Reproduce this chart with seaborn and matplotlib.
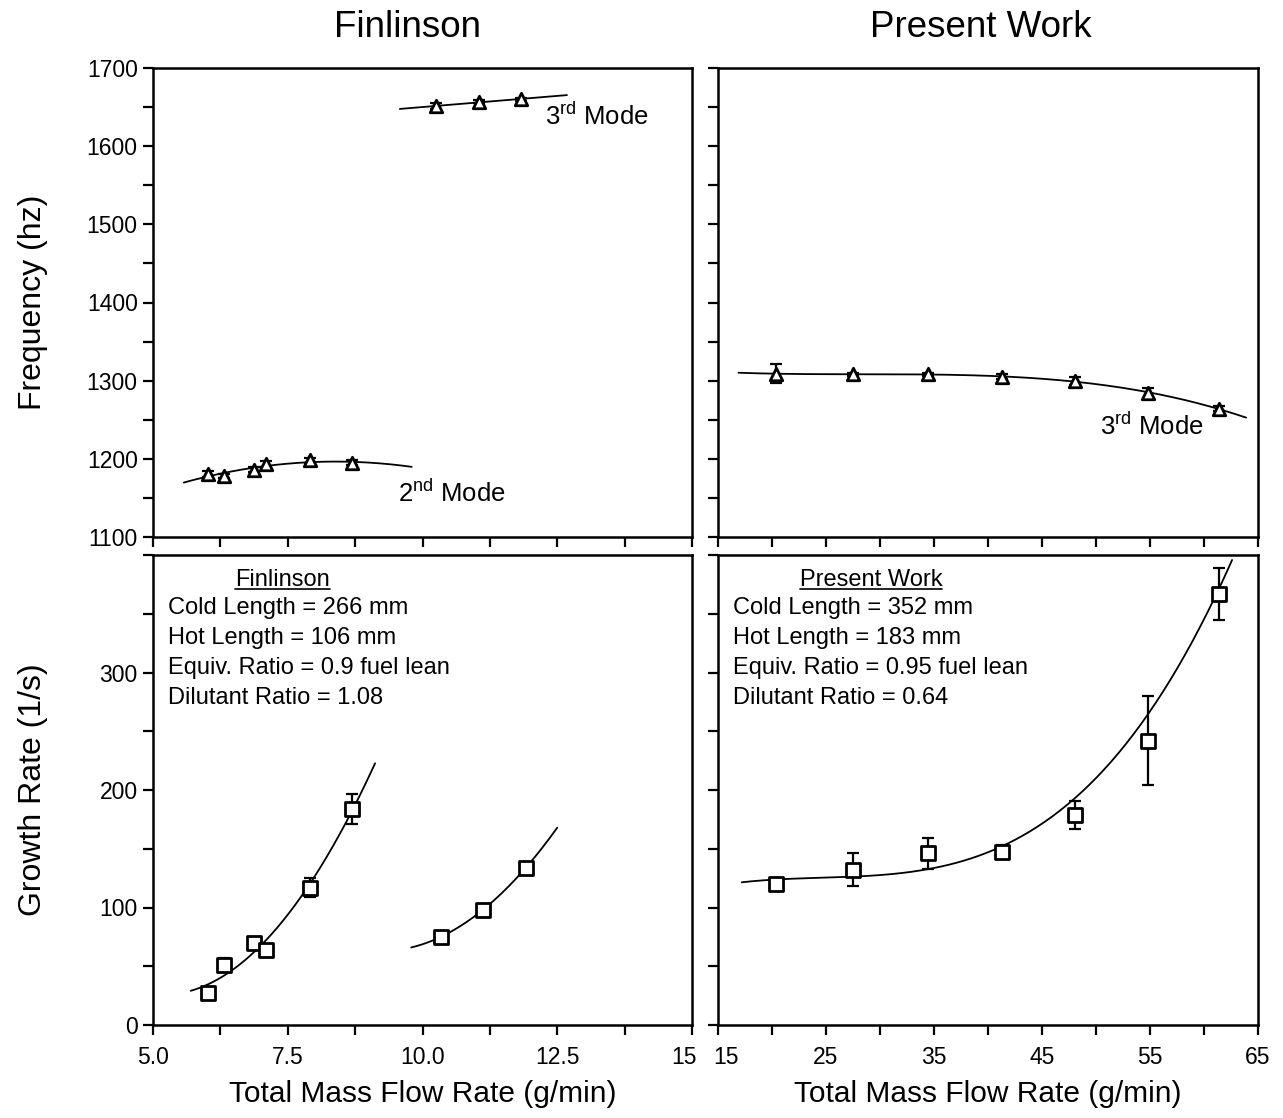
import numpy as np
import pandas as pd
import matplotlib
matplotlib.use("Agg")
import matplotlib.pyplot as plt
import matplotlib.transforms as mtransforms
import seaborn as sns
from matplotlib.ticker import MultipleLocator

sns.set_theme(style="ticks")
plt.rcParams['font.family'] = ['Liberation Sans', 'DejaVu Sans']
plt.rcParams['mathtext.default'] = 'regular'
plt.rcParams['text.color'] = 'black'
plt.rcParams['axes.labelcolor'] = 'black'
plt.rcParams['xtick.color'] = 'black'
plt.rcParams['ytick.color'] = 'black'

# ---------------- data ----------------
# Finlinson, frequency
fin_m2_x = [6.02, 6.32, 6.87, 7.10, 7.91, 8.69]
fin_m2_f = [1181, 1178, 1186, 1193, 1198, 1195]
fin_m2_ferr = [4, 2, 3, 4, 3, 3]
fin_m3_x = [10.25, 11.05, 11.83]
fin_m3_f = [1651, 1657, 1660]
fin_m3_ferr = [4, 2, 2]
# Finlinson, growth rate
fin_g2_x = [6.02, 6.32, 6.87, 7.10, 7.91, 8.69]
fin_g2_g = [27, 51, 70, 64, 117, 184]
fin_g2_gerr = [2, 6, 3, 2, 8, 13]
fin_g3_x = [10.34, 11.12, 11.92]
fin_g3_g = [75, 98, 134]
fin_g3_gerr = [2, 2, 2]
# Present work
pw_x = [20.4, 27.5, 34.4, 41.3, 48.1, 54.8, 61.4]
pw_f = [1309, 1308, 1308, 1305, 1300, 1284, 1264]
pw_ferr = [12, 2, 2, 3, 5, 6, 3]
pw_g = [120, 132, 146, 147, 179, 242, 367]
pw_gerr = [3, 14, 13, 6, 12, 38, 22]
# published growth-rate fit curve (Present Work)
pw_gfit_x = [17.2, 20.5, 25.1, 27.9, 31.6, 34.8, 40.2, 47.6, 51.9, 54.7, 57.5, 59.9, 61.5, 62.4]
pw_gfit_g = [124, 123, 122, 125, 129, 134, 152, 192, 227, 262, 301, 341, 370, 399]

# fit-curve spans
fin_m2_span = [5.57, 9.8]
fin_m3_span = [9.58, 12.68]
fin_g2_span = [5.7, 9.12]
fin_g3_span = [9.79, 12.5]
pw_f_span = [16.9, 63.9]
pw_g_span = [17.2, 62.6]

titles = ["Finlinson", "Present Work"]
notes = [
    ["Cold Length = 266 mm", "Hot Length = 106 mm",
     "Equiv. Ratio = 0.9 fuel lean", "Dilutant Ratio = 1.08"],
    ["Cold Length = 352 mm", "Hot Length = 183 mm",
     "Equiv. Ratio = 0.95 fuel lean", "Dilutant Ratio = 0.64"],
]

# ---------------- figure ----------------
W, H = 1283, 1118
fig = plt.figure(figsize=(W / 100, H / 100), dpi=100)

def px_axes(l, t, r, b):
    return fig.add_axes([l / W, 1 - b / H, (r - l) / W, (b - t) / H])

ax_tl = px_axes(153, 68, 692, 537)
ax_tr = px_axes(718, 68, 1258, 537)
ax_bl = px_axes(153, 555, 692, 1025)
ax_br = px_axes(718, 555, 1258, 1025)

LW_FIT = 1.3
MS = 9

def fit_line(ax, x, y, span, order):
    coef = np.polyfit(x, y, order)
    xs = np.linspace(span[0], span[1], 200)
    df = pd.DataFrame({"x": xs, "y": np.polyval(coef, xs)})
    sns.lineplot(data=df, x="x", y="y", ax=ax, color="black", lw=LW_FIT,
                 legend=False)

def points(ax, x, y, err, marker, ms):
    ax.errorbar(x, y, yerr=err, fmt="none", ecolor="black", elinewidth=1.6,
                capsize=4, capthick=1.6, zorder=3)
    df = pd.DataFrame({"x": x, "y": y})
    sns.scatterplot(data=df, x="x", y="y", ax=ax, marker=marker, s=ms ** 2,
                    facecolor="white", edgecolor="black", linewidth=2.0,
                    zorder=4, legend=False)

# top-left
fit_line(ax_tl, fin_m2_x, fin_m2_f, fin_m2_span, 2)
fit_line(ax_tl, fin_m3_x, fin_m3_f, fin_m3_span, 1)
points(ax_tl, fin_m2_x, fin_m2_f, fin_m2_ferr, "^", MS)
points(ax_tl, fin_m3_x, fin_m3_f, fin_m3_ferr, "^", MS)
ax_tl.text(9.55, 1145, "2$^{nd}$ Mode", fontsize=18.5, ha="left", va="baseline")
ax_tl.text(12.27, 1627, "3$^{rd}$ Mode", fontsize=18.5, ha="left", va="baseline")

# top-right
fit_line(ax_tr, pw_x, pw_f, pw_f_span, 3)
points(ax_tr, pw_x, pw_f, pw_ferr, "^", MS)
ax_tr.text(50.4, 1230, "3$^{rd}$ Mode", fontsize=18.5, ha="left", va="baseline")

# bottom-left
fit_line(ax_bl, fin_g2_x, fin_g2_g, fin_g2_span, 2)
fit_line(ax_bl, fin_g3_x, fin_g3_g, fin_g3_span, 2)
points(ax_bl, fin_g2_x, fin_g2_g, fin_g2_gerr, "s", 10)
points(ax_bl, fin_g3_x, fin_g3_g, fin_g3_gerr, "s", 10)

# bottom-right
fit_line(ax_br, pw_gfit_x, pw_gfit_g, pw_g_span, 3)
points(ax_br, pw_x, pw_g, pw_gerr, "s", 10)

# ---------------- axes styling ----------------
def set_limits():
    for ax in (ax_tl, ax_bl):
        ax.set_xlim(5, 15)
    for ax in (ax_tr, ax_br):
        ax.set_xlim(15, 65)
    for ax in (ax_tl, ax_tr):
        ax.set_ylim(1100, 1700)
    for ax in (ax_bl, ax_br):
        ax.set_ylim(0, 400)

set_limits()
for ax in (ax_tl, ax_bl):
    ax.xaxis.set_major_locator(MultipleLocator(1.25))
for ax in (ax_tr, ax_br):
    ax.xaxis.set_major_locator(MultipleLocator(5))
for ax in (ax_tl, ax_tr, ax_bl, ax_br):
    ax.yaxis.set_major_locator(MultipleLocator(50))

for ax in (ax_tl, ax_tr, ax_bl, ax_br):
    ax.set_xlabel("")
    ax.set_ylabel("")
    for sp in ax.spines.values():
        sp.set_visible(True)
        sp.set_linewidth(1.8)
        sp.set_color("black")
    ax.tick_params(direction="out", length=7, width=1.6, colors="black",
                   labelsize=16.5, top=False, right=False)
    ax.tick_params(axis="x", pad=8)
    ax.tick_params(axis="y", pad=4)
    ax.set_facecolor("white")

def fmt_labels(ax, axis, keep):
    ticks = ax.get_xticks() if axis == "x" else ax.get_yticks()
    labels = []
    for t in ticks:
        lab = ""
        for v, s in keep:
            if abs(t - v) < 1e-6:
                lab = s
        labels.append(lab)
    if axis == "x":
        ax.set_xticks(ticks)
        ax.set_xticklabels(labels)
    else:
        ax.set_yticks(ticks)
        ax.set_yticklabels(labels)

fin_xtick = [(5.0, "5.0"), (7.5, "7.5"), (10.0, "10.0"), (12.5, "12.5"), (15.0, "15")]
pw_xtick = [(15, "15"), (25, "25"), (35, "35"), (45, "45"), (55, "55"), (65, "65")]
freq_ytick = [(v, str(v)) for v in [1100, 1200, 1300, 1400, 1500, 1600, 1700]]
gr_ytick = [(v, str(v)) for v in [0, 100, 200, 300]]

fmt_labels(ax_tl, "x", [])
fmt_labels(ax_tr, "x", [])
fmt_labels(ax_bl, "x", fin_xtick)
fmt_labels(ax_br, "x", pw_xtick)
fmt_labels(ax_tl, "y", freq_ytick)
fmt_labels(ax_bl, "y", gr_ytick)
fmt_labels(ax_tr, "y", [])
fmt_labels(ax_br, "y", [])
set_limits()

# separate the two adjoining "15" labels
lab_l = [t for t in ax_bl.get_xticklabels() if t.get_text() == "15"][0]
lab_l.set_transform(lab_l.get_transform() +
                    mtransforms.ScaledTranslation(-6 / 72, 0, fig.dpi_scale_trans))
lab_r = [t for t in ax_br.get_xticklabels() if t.get_text() == "15"][0]
lab_r.set_transform(lab_r.get_transform() +
                    mtransforms.ScaledTranslation(6 / 72, 0, fig.dpi_scale_trans))

ax_tl.set_title(titles[0], fontsize=26.5, pad=22, x=0.473)
ax_tr.set_title(titles[1], fontsize=26.5, pad=22, x=0.487)
ax_tl.set_ylabel("Frequency (hz)", fontsize=23)
ax_bl.set_ylabel("Growth Rate (1/s)", fontsize=23)
ax_tl.yaxis.set_label_coords(-0.195, 0.5)
ax_bl.yaxis.set_label_coords(-0.195, 0.5)
ax_bl.set_xlabel("Total Mass Flow Rate (g/min)", fontsize=21.5)
ax_br.set_xlabel("Total Mass Flow Rate (g/min)", fontsize=21.5)
ax_bl.xaxis.set_label_coords(0.5, -0.118)
ax_br.xaxis.set_label_coords(0.5, -0.118)

# ---------------- annotation blocks ----------------
heads = []
for ax, title, lines, hx in ((ax_bl, titles[0], notes[0], 0.24),
                             (ax_br, titles[1], notes[1], 0.283)):
    h = ax.text(hx, 0.947, title, transform=ax.transAxes, fontsize=17,
                ha="center", va="center")
    heads.append((ax, h))
    for i, s in enumerate(lines):
        ax.text(0.027, 0.887 - i * 0.064, s, transform=ax.transAxes,
                fontsize=17, ha="left", va="center")

fig.canvas.draw()
renderer = fig.canvas.get_renderer()
for ax, h in heads:
    bb = h.get_window_extent(renderer=renderer)
    inv = ax.transAxes.inverted()
    (x0, y0), (x1, y1) = inv.transform([[bb.x0, bb.y0], [bb.x1, bb.y1]])
    ax.plot([x0, x1], [y0 + 0.005, y0 + 0.005], transform=ax.transAxes,
            color="black", lw=1.2, clip_on=False)

fig.savefig("out.png", dpi=100, facecolor="white")
